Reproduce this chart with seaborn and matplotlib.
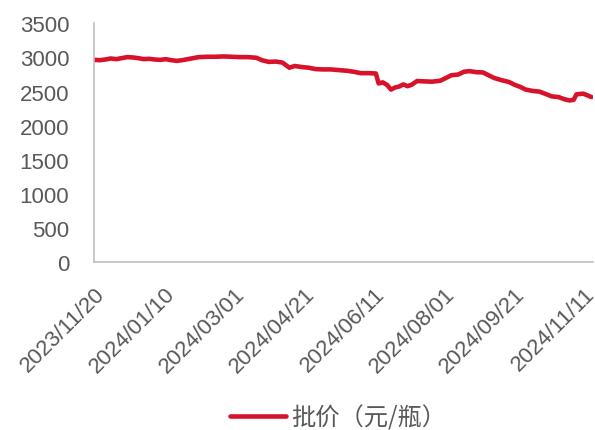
import matplotlib
matplotlib.use("Agg")
import matplotlib.pyplot as plt
import matplotlib.dates as mdates
import numpy as np
import pandas as pd
import seaborn as sns

# day offsets from 2023/11/20 and wholesale price
day_offsets = [0, 4, 8, 12, 16, 20, 24, 28, 32, 36, 40, 44, 48, 52, 56, 60, 64,
               68, 72, 76, 82, 88, 94, 100, 106, 112, 118, 122, 127, 132, 137,
               142, 146, 151, 156, 161, 166, 172, 178, 184, 189, 194, 200, 205,
               207, 210, 213, 216, 219, 222, 225, 228, 231, 235, 240, 246, 252,
               256, 260, 265, 269, 273, 278, 283, 287, 291, 296, 302, 306, 310,
               314, 319, 324, 328, 333, 338, 342, 346, 349, 351, 356, 359, 362]
prices = [2965, 2960, 2970, 2985, 2975, 2990, 3005, 3000, 2990, 2975, 2980,
          2970, 2965, 2975, 2960, 2950, 2960, 2975, 2990, 3005, 3010, 3010,
          3015, 3010, 3005, 3005, 2995, 2960, 2935, 2940, 2925, 2850, 2875,
          2860, 2850, 2830, 2825, 2825, 2815, 2805, 2790, 2770, 2770, 2765,
          2620, 2635, 2600, 2530, 2560, 2575, 2605, 2580, 2600, 2655, 2650,
          2645, 2660, 2700, 2740, 2750, 2790, 2800, 2785, 2780, 2740, 2700,
          2670, 2640, 2600, 2570, 2530, 2510, 2500, 2470, 2430, 2420, 2390,
          2370, 2380, 2460, 2470, 2445, 2420]
start_date = "2023-11-20"
tick_step_days = 51
series_label = "批价（元/瓶）"

start = pd.Timestamp(start_date)
df = pd.DataFrame({
    "date": start + pd.to_timedelta(day_offsets, unit="D"),
    "price": prices,
})

sns.set_style("white")
plt.rcParams["font.family"] = ["Liberation Sans", "Noto Sans CJK SC", "DejaVu Sans"]

text_color = "#595959"
axis_color = "#bfbfbf"
red = "#d9122b"

fig = plt.figure(figsize=(5.95, 4.31), dpi=100)
ax = fig.add_axes([0.1585, 0.389, 0.838, 0.5546])

sns.lineplot(data=df, x="date", y="price", color=red, linewidth=3.3,
             label=series_label, ax=ax)

ax.set_ylim(0, 3500)
ax.set_yticks(np.arange(0, 3501, 500))
ax.set_xlim(start, start + pd.Timedelta(days=363))
ticks = [start + pd.Timedelta(days=tick_step_days * i) for i in range(8)]
ax.set_xticks(ticks)
ax.xaxis.set_major_formatter(mdates.DateFormatter("%Y/%m/%d"))
plt.setp(ax.get_xticklabels(), rotation=45, ha="right", rotation_mode="anchor")

ax.set_xlabel("")
ax.set_ylabel("")
for side in ["top", "right"]:
    ax.spines[side].set_visible(False)
for side in ["left", "bottom"]:
    ax.spines[side].set_color(axis_color)
    ax.spines[side].set_linewidth(1.2)
ax.tick_params(axis="both", colors=axis_color, labelcolor=text_color,
               labelsize=16, length=5, width=1.2, direction="out")
ax.tick_params(axis="x", pad=10)
ax.tick_params(axis="y", pad=13)

ax.legend(loc="center", bbox_to_anchor=(0.5, 0.03), bbox_transform=fig.transFigure,
          frameon=False, handlelength=2.3, handletextpad=0.2,
          prop={"family": ["Noto Sans CJK SC"], "size": 17.5}, labelcolor=text_color)
# centre the legend under the plot area, as in the source chart
leg = ax.get_legend()
leg.set_bbox_to_anchor((0.568, 0.03), transform=fig.transFigure)

fig.savefig("out.png", dpi=100)
